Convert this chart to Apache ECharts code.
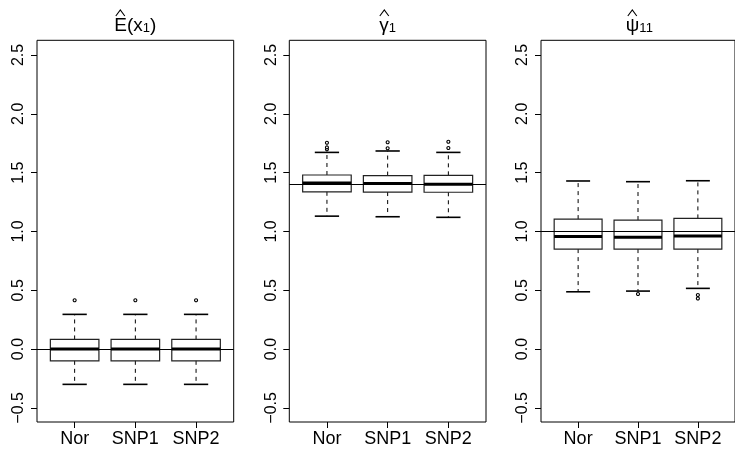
<!DOCTYPE html>
<html>
<head>
<meta charset="utf-8">
<script src="https://cdn.jsdelivr.net/npm/echarts@6/dist/echarts.min.js"></script>
<style>html,body{margin:0;padding:0;background:#fff}#c{width:735px;height:450px}</style>
</head>
<body>
<div id="c"></div>
<script>
// ---- data ----
const categories = ['Nor', 'SNP1', 'SNP2'];
const yTicks = [-0.5, 0, 0.5, 1, 1.5, 2, 2.5];
// stats per category: [lower whisker, Q1, median, Q3, upper whisker]
const eStats = [
  [-0.300, -0.100, 0.000, 0.082, 0.295],
  [-0.300, -0.100, 0.000, 0.082, 0.295],
  [-0.300, -0.100, 0.000, 0.082, 0.295]
];
const eOutliers = [[0.415], [0.415], [0.415]];
const gStats = [
  [1.130, 1.337, 1.412, 1.480, 1.672],
  [1.125, 1.335, 1.407, 1.475, 1.684],
  [1.120, 1.333, 1.401, 1.477, 1.672]
];
const gOutliers = [[1.698, 1.715, 1.754], [1.707, 1.758], [1.709, 1.763]];
const pStats = [
  [0.487, 0.850, 0.958, 1.105, 1.429],
  [0.493, 0.850, 0.950, 1.097, 1.423],
  [0.516, 0.850, 0.961, 1.111, 1.431]
];
const pOutliers = [[], [0.468], [0.460, 0.430]];
const refValues = [0, 1.4, 1.0];

// ---- layout ----
const FONT = '"Liberation Sans", Arial, Helvetica, sans-serif';
const panelLeft = [37, 289.3, 541];
const panelWidth = 196.7;
const panelTop = 40.3;
const panelHeight = 381.7;
const yMin = -0.62, yMax = 2.625;
const xMin = 0.38, xMax = 3.62;
// hat (circumflex) centre x for each title's main letter
const hatX = [120.3, 384.3, 632.3];

const panels = [
  { stats: eStats, out: eOutliers, title: '{m|E(x}{s|1}{m|)}' },
  { stats: gStats, out: gOutliers, title: '{m|\u03B3}{s|1}' },
  { stats: pStats, out: pOutliers, title: '{m|\u03C8}{s|11}' }
];

function renderBox(params, api) {
  const x = api.value(0);
  const c = (v) => api.coord([x, v]);
  const lo = c(api.value(1)), q1 = c(api.value(2)), med = c(api.value(3)),
        q3 = c(api.value(4)), hi = c(api.value(5));
  const cx = lo[0];
  const half = api.size([0.8, 0])[0] / 2;
  const cap = half / 2;
  const dash = { stroke: '#000', lineWidth: 1, lineDash: [4, 4] };
  return {
    type: 'group',
    children: [
      { type: 'line', shape: { x1: cx, y1: q3[1], x2: cx, y2: hi[1] }, style: dash },
      { type: 'line', shape: { x1: cx, y1: q1[1], x2: cx, y2: lo[1] }, style: dash },
      { type: 'line', shape: { x1: cx - cap, y1: hi[1], x2: cx + cap, y2: hi[1] }, style: { stroke: '#000', lineWidth: 1.6 } },
      { type: 'line', shape: { x1: cx - cap, y1: lo[1], x2: cx + cap, y2: lo[1] }, style: { stroke: '#000', lineWidth: 1.6 } },
      { type: 'rect', shape: { x: cx - half, y: q3[1], width: half * 2, height: q1[1] - q3[1] }, style: { stroke: '#222', lineWidth: 1.2, fill: null } },
      { type: 'line', shape: { x1: cx - half, y1: med[1], x2: cx + half, y2: med[1] }, style: { stroke: '#000', lineWidth: 3 } }
    ]
  };
}

const option = {
  animation: false,
  backgroundColor: '#fff',
  textStyle: { fontFamily: FONT },
  title: [], grid: [], xAxis: [], yAxis: [], series: [],
  graphic: []
};

panels.forEach((p, i) => {
  option.title.push({
    text: p.title,
    left: panelLeft[i] + panelWidth / 2,
    top: 9,
    padding: 0,
    textAlign: 'center',
    textStyle: {
      fontWeight: 'normal',
      rich: {
        m: { fontSize: 19, fontWeight: 'normal', fontFamily: FONT, color: '#000', lineHeight: 26, verticalAlign: 'bottom' },
        s: { fontSize: 13, fontWeight: 'normal', fontFamily: FONT, color: '#000', lineHeight: 15, verticalAlign: 'bottom' }
      }
    }
  });
  option.graphic.push({
    type: 'polyline', silent: true,
    shape: { points: [[hatX[i] - 4.5, 16], [hatX[i], 10], [hatX[i] + 4.5, 16]] },
    style: { stroke: '#000', lineWidth: 1.1, fill: null }
  });
  option.grid.push({
    left: panelLeft[i], top: panelTop, width: panelWidth, height: panelHeight,
    show: true, borderColor: '#000', borderWidth: 1, backgroundColor: 'transparent'
  });
  option.xAxis.push({
    type: 'value', gridIndex: i, min: xMin, max: xMax,
    splitLine: { show: false }, axisLine: { show: false, onZero: false },
    axisTick: { show: true, length: 6, lineStyle: { color: '#000' }, customValues: [1, 2, 3] },
    axisLabel: {
      show: true, customValues: [1, 2, 3], margin: 8,
      fontSize: 18, color: '#000', fontFamily: FONT,
      formatter: (v) => categories[Math.round(v) - 1] || ''
    }
  });
  option.yAxis.push({
    type: 'value', gridIndex: i, min: yMin, max: yMax,
    splitLine: { show: false }, axisLine: { show: false, onZero: false },
    axisTick: { show: true, length: 6, lineStyle: { color: '#000' }, customValues: yTicks },
    axisLabel: {
      show: true, customValues: yTicks, rotate: 90, margin: 10,
      fontSize: 16, color: '#000', fontFamily: FONT,
      formatter: (v) => (v < 0 ? '\u2212' : '') + Math.abs(v).toFixed(1)
    }
  });
  option.series.push({
    type: 'custom', xAxisIndex: i, yAxisIndex: i,
    renderItem: renderBox,
    encode: { x: 0, y: [1, 2, 3, 4, 5] },
    data: p.stats.map((s, k) => [k + 1].concat(s)),
    z: 3
  });
  const outData = [];
  p.out.forEach((arr, k) => arr.forEach((v) => outData.push([k + 1, v])));
  option.series.push({
    type: 'scatter', xAxisIndex: i, yAxisIndex: i,
    symbol: 'circle', symbolSize: 3,
    itemStyle: { color: '#fff', borderColor: '#000', borderWidth: 1.1, opacity: 1 },
    data: outData,
    z: 4,
    markLine: {
      silent: true, symbol: 'none', animation: false,
      label: { show: false },
      lineStyle: { color: '#000', type: 'solid', width: 1.2 },
      data: [{ yAxis: refValues[i] }]
    }
  });
});

const chart = echarts.init(document.getElementById('c'), null, { renderer: 'canvas' });
chart.setOption(option);
</script>
</body>
</html>
